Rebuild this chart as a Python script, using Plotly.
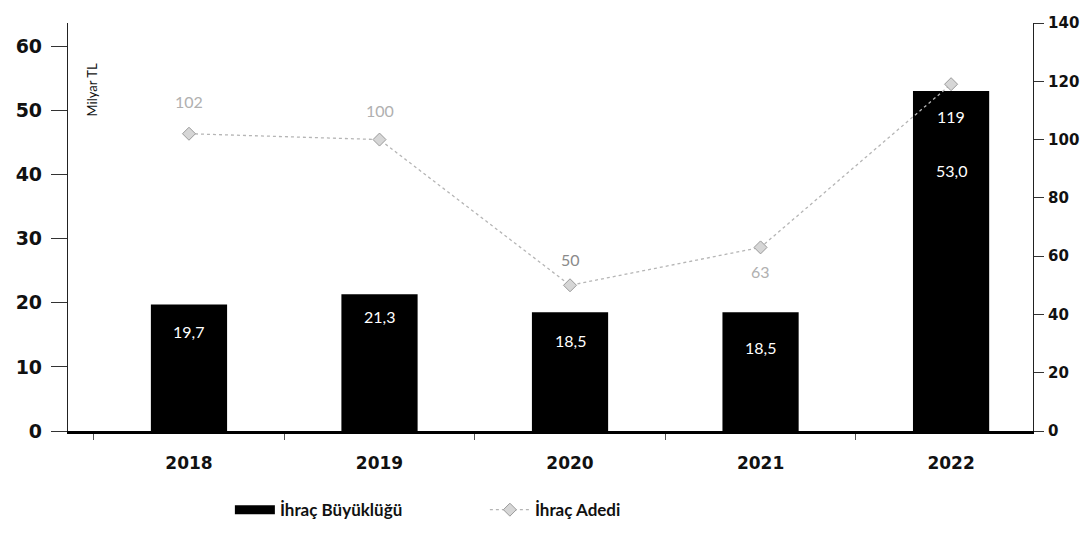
import plotly.graph_objects as go

years = ["2018", "2019", "2020", "2021", "2022"]
ihrac_buyuklugu = [19.7, 21.3, 18.5, 18.5, 53.0]      # Milyar TL (left axis)
ihrac_adedi = [102, 100, 50, 63, 119]                 # count (right axis)
left_ticks = [0, 10, 20, 30, 40, 50, 60]
right_ticks = [0, 20, 40, 60, 80, 100, 120, 140]


def tr(v):
    return f"{v:.1f}".replace(".", ",")


FONT = "Lato, 'Open Sans', sans-serif"
TICKFONT = "'DejaVu Sans', sans-serif"

fig = go.Figure()
fig.add_trace(go.Bar(
    x=years, y=ihrac_buyuklugu, name="İhraç Büyüklüğü",
    marker=dict(color="#000000", line=dict(width=0)), width=0.4,
    yaxis="y", showlegend=False,
))
# legend stand-in for the bar series (wide black block)
fig.add_trace(go.Scatter(
    x=[None], y=[None], name="İhraç Büyüklüğü", mode="lines",
    line=dict(color="#000000", width=9), yaxis="y",
))
fig.add_trace(go.Scatter(
    x=years, y=ihrac_adedi, name="İhraç Adedi", yaxis="y2",
    mode="lines+markers",
    line=dict(color="#b5b5b5", width=1.3, dash="dot"),
    marker=dict(symbol="diamond", size=10, color="#d6d6d6",
                line=dict(color="#9a9a9a", width=1)),
))

# bar value labels (white, inside the bars)
bar_label_shift = [-27, -22, -28, -35, -79]
for i, (v, s) in enumerate(zip(ihrac_buyuklugu, bar_label_shift)):
    fig.add_annotation(x=i, y=v, xref="x", yref="y", text=tr(v), showarrow=False,
                       yshift=s, font=dict(family=FONT, size=16, color="white"))

# line value labels
line_label_shift = [32, 29, 26, -24, -32]
line_label_color = ["#b0b0b0", "#b0b0b0", "#8a8a8a", "#b0b0b0", "#ffffff"]
for i, (v, s, c) in enumerate(zip(ihrac_adedi, line_label_shift, line_label_color)):
    fig.add_annotation(x=i, y=v, xref="x", yref="y2", text=str(v), showarrow=False,
                       yshift=s, font=dict(family=FONT, size=16, color=c))

fig.add_annotation(xref="paper", yref="paper", x=0.025, y=0.905,
                   text="Milyar TL", textangle=-90, showarrow=False,
                   xanchor="center", yanchor="top",
                   font=dict(family=FONT, size=13, color="#111111"))

fig.update_layout(
    width=1091, height=551,
    margin=dict(l=60, r=66, t=15, b=128, autoexpand=False),
    paper_bgcolor="white", plot_bgcolor="white",
    font=dict(family=FONT, color="#111111"),
    showlegend=True,
    legend=dict(orientation="h", x=0.432, xanchor="center", y=-0.194,
                yanchor="middle", font=dict(family=FONT, size=17, color="#111111",
                                            weight="bold"),
                itemwidth=40, entrywidth=200, entrywidthmode="pixels",
                traceorder="normal"),
    xaxis=dict(type="category", range=[-0.635, 4.43], showgrid=False,
               showline=True, linecolor="#000000", linewidth=2.5,
               ticks="outside", tickson="boundaries", ticklen=6,
               tickcolor="#555555", tickwidth=1, ticklabelstandoff=15,
               tickfont=dict(family=TICKFONT, size=17, color="#111111", weight="bold"),
               zeroline=False, automargin=False),
    yaxis=dict(range=[0, 63.6], tickvals=left_ticks, showgrid=False,
               showline=True, linecolor="#222222", linewidth=1.2,
               ticks="outside", ticklen=16, tickcolor="#333333",
               ticklabelstandoff=5,
               tickfont=dict(family=TICKFONT, size=19, color="#111111", weight="bold"),
               zeroline=False, automargin=False),
    yaxis2=dict(range=[0, 140], tickvals=right_ticks, overlaying="y", side="right",
                showgrid=False, showline=True, linecolor="#222222", linewidth=1.2,
                ticks="outside", ticklen=10, tickcolor="#333333",
                ticklabelstandoff=1,
                tickfont=dict(family=TICKFONT, size=15, color="#111111", weight="bold"),
                zeroline=False, automargin=False),
    bargap=0.6,
)

fig.write_html("out.html")
